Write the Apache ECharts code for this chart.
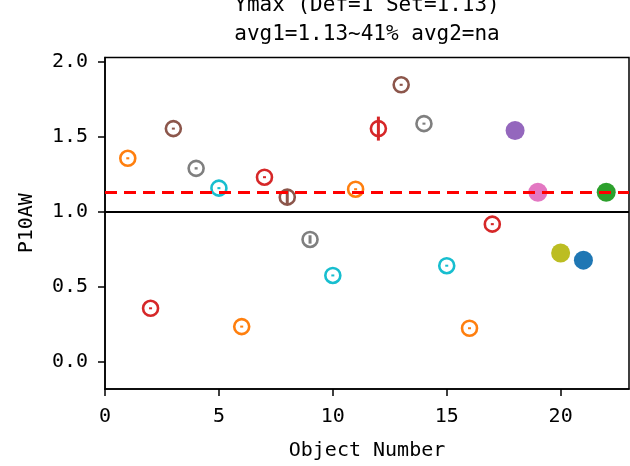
<!DOCTYPE html>
<html><head><meta charset="utf-8">
<script src="https://cdn.jsdelivr.net/npm/echarts@6/dist/echarts.min.js"></script>
<style>html,body{margin:0;padding:0;background:#fff}#c{width:630px;height:466px}</style>
</head><body><div id="c"></div>
<script>
// ---- data ----
const titleLine1 = 'Ymax (Def=1 Set=1.13)';
const titleLine2 = 'avg1=1.13~41% avg2=na';
const xName = 'Object Number';
const yName = 'P10AW';
const objectNumbers = [1, 2, 3, 4, 5, 6, 7, 8, 9, 10, 11, 12, 13, 14, 15, 16, 17, 18, 19, 20, 21, 22];
const p10aw = [1.358, 0.358, 1.556, 1.291, 1.159, 0.236, 1.232, 1.099, 0.817, 0.577, 1.152, 1.556, 1.848, 1.589, 0.642, 0.225, 0.919, 1.543, 1.132, 0.727, 0.679, 1.132];
const p10awErr = [0.007, 0.003, 0.006, 0.008, 0.007, 0.002, 0.006, 0.05, 0.028, 0.005, 0.006, 0.08, 0.007, 0.007, 0.003, 0.002, 0.007, 0, 0, 0, 0, 0];
const filledPoint = [0, 0, 0, 0, 0, 0, 0, 0, 0, 0, 0, 0, 0, 0, 0, 0, 0, 1, 1, 1, 1, 1];
const defaultLevel = 1.0;
const setLevel = 1.13;
const xTicks = [0, 5, 10, 15, 20];
const yTicks = [0, 0.5, 1.0, 1.5, 2.0];

// ---- style ----
const palette = ['#ff7f0e', '#d62728', '#8c564b', '#7f7f7f', '#17becf', '#ff7f0e', '#d62728', '#8c564b', '#7f7f7f', '#17becf', '#ff7f0e', '#d62728', '#8c564b', '#7f7f7f', '#17becf', '#ff7f0e', '#d62728', '#9467bd', '#e377c2', '#bcbd22', '#1f77b4', '#2ca02c'];
const FONT = '"DejaVu Sans Mono", monospace';

const chart = echarts.init(document.getElementById('c'), null, {renderer: 'canvas'});

const scatterData = objectNumbers.map((x, i) => ({
  value: [x, p10aw[i]],
  symbolSize: filledPoint[i] ? 19 : 15,
  itemStyle: filledPoint[i]
    ? {color: palette[i], borderWidth: 0, opacity: 1}
    : {color: '#ffffff', borderColor: palette[i], borderWidth: 2.6, opacity: 1}
}));
const errData = objectNumbers.map((x, i) => [x, p10aw[i], p10awErr[i]]).filter(d => d[2] > 0);
const errColors = objectNumbers.map((x, i) => palette[i]).filter((c, i) => p10awErr[i] > 0);

const option = {
  animation: false,
  backgroundColor: '#fff',
  grid: {left: 105, right: 1, top: 57.5, bottom: 75, show: true, borderColor: '#000', borderWidth: 1.5, backgroundColor: 'transparent'},
  graphic: [
    {type: 'text', x: 367, y: 6, z: 10, style: {text: titleLine1, fill: '#000', font: '21px ' + FONT, textAlign: 'center', textVerticalAlign: 'middle'}},
    {type: 'text', x: 367, y: 35, z: 10, style: {text: titleLine2, fill: '#000', font: '21px ' + FONT, textAlign: 'center', textVerticalAlign: 'middle'}}
  ],
  xAxis: {
    type: 'value', min: 0, max: 23,
    name: xName, nameLocation: 'middle', nameGap: 52,
    nameTextStyle: {color: '#000', fontSize: 20, fontFamily: FONT},
    axisLine: {show: true, onZero: false, lineStyle: {color: '#000', width: 1.5}},
    axisTick: {show: true, customValues: xTicks, length: 7, lineStyle: {color: '#000', width: 1.5}},
    axisLabel: {show: true, customValues: xTicks, margin: 18, color: '#000', fontSize: 20, fontFamily: FONT, formatter: v => String(v)},
    splitLine: {show: false}
  },
  yAxis: {
    type: 'value', min: -0.18, max: 2.03,
    name: yName, nameLocation: 'middle', nameGap: 68, nameRotate: 90,
    nameTextStyle: {color: '#000', fontSize: 20, fontFamily: FONT},
    axisLine: {show: true, onZero: false, lineStyle: {color: '#000', width: 1.5}},
    axisTick: {show: true, customValues: yTicks, length: 7, lineStyle: {color: '#000', width: 1.5}},
    axisLabel: {show: true, customValues: yTicks, margin: 17, color: '#000', fontSize: 20, fontFamily: FONT, formatter: v => v.toFixed(1)},
    splitLine: {show: false}
  },
  series: [
    {
      type: 'line', data: [], z: 1,
      markLine: {
        silent: true, symbol: ['none', 'none'], label: {show: false},
        data: [
          {yAxis: defaultLevel, lineStyle: {color: '#000', width: 2, type: 'solid', opacity: 1}},
          {yAxis: setLevel, lineStyle: {color: '#ff0000', width: 3, type: [12, 7], opacity: 1}}
        ]
      }
    },
    {type: 'scatter', symbol: 'circle', data: scatterData, z: 3, itemStyle: {opacity: 1}},
    {
      type: 'custom', z: 4, data: errData,
      renderItem: function (params, api) {
        const x = api.value(0), y = api.value(1), e = api.value(2);
        const top = api.coord([x, y + e]);
        const bot = api.coord([x, y - e]);
        const cy = (top[1] + bot[1]) / 2;
        let h = Math.max(bot[1] - top[1], 2);
        return {type: 'rect', shape: {x: top[0] - 1.5, y: cy - h / 2, width: 3, height: h}, style: {fill: errColors[params.dataIndex]}};
      }
    }
  ]
};
chart.setOption(option);
</script>
</body></html>
